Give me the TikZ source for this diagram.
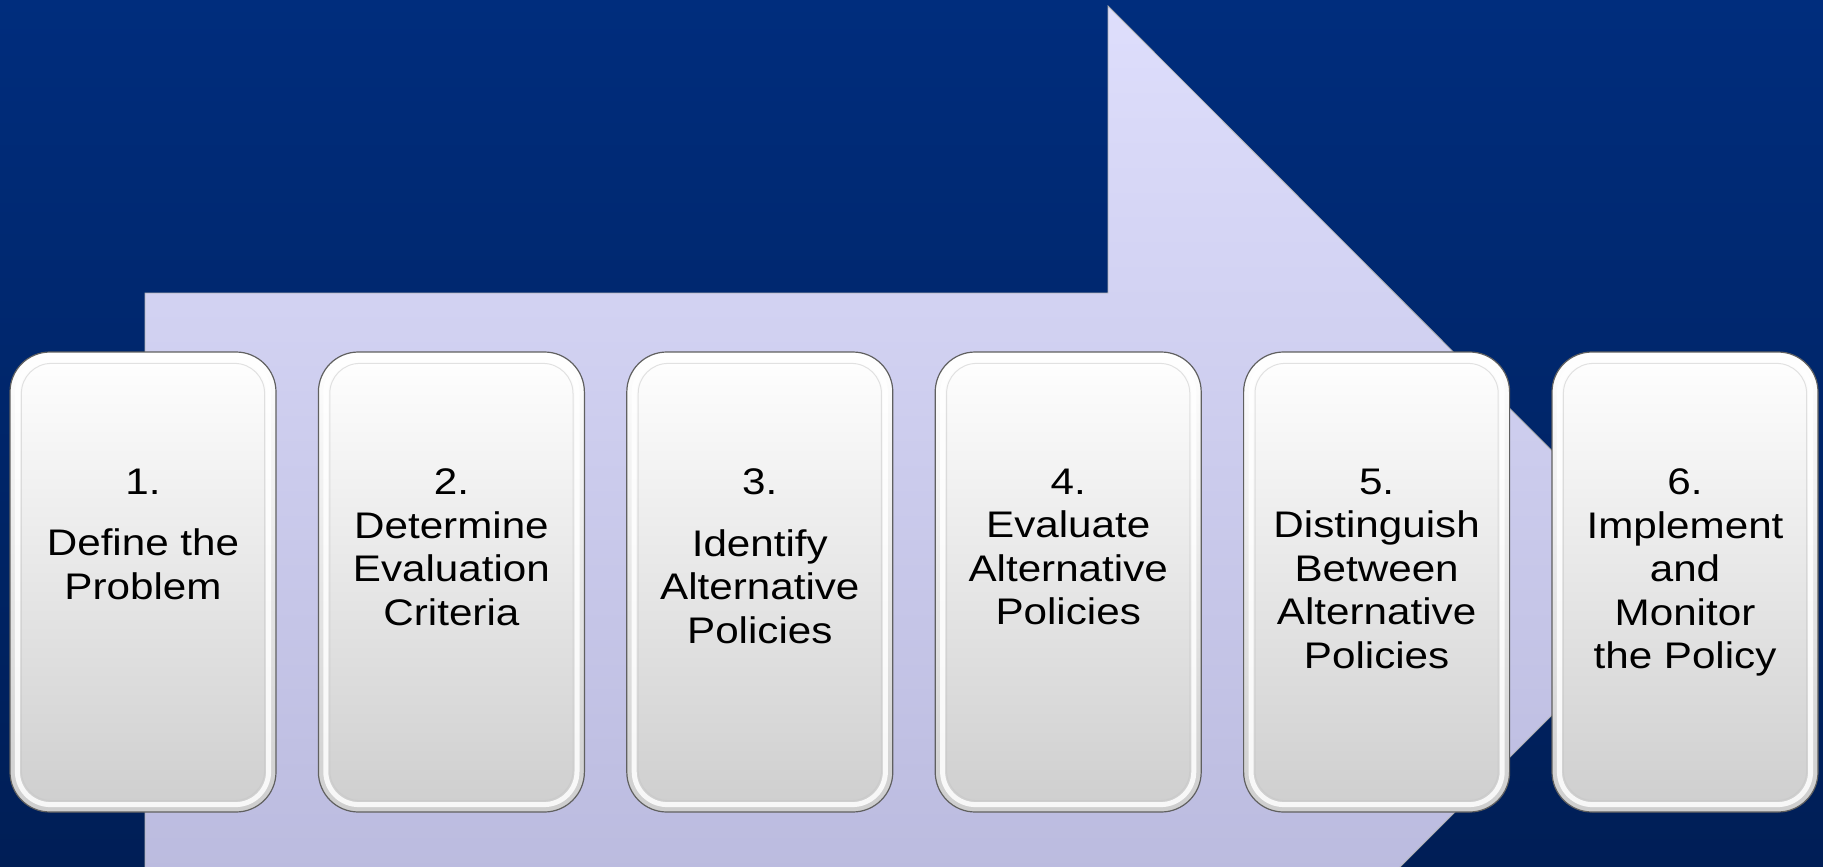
\documentclass[tikz,border=0pt]{standalone}
\usepackage{fontspec}
\setmainfont{Liberation Sans}
\definecolor{bgtop}{RGB}{0,45,125}
\definecolor{bgbot}{RGB}{0,30,86}
\definecolor{arrtop}{RGB}{222,222,252}
\definecolor{arrbot}{RGB}{186,186,222}
\definecolor{boxbot}{RGB}{206,206,206}
\definecolor{boxmid}{RGB}{238,238,238}
\tikzset{
  stepbox/.style={rounded corners=40pt, draw=gray!75!black, line width=1.2pt,
    top color=white, middle color=boxmid, bottom color=boxbot,
    minimum width=266pt, minimum height=460pt, inner sep=0pt},
  rimline/.style={rounded corners=33pt, draw=white, line width=5pt, opacity=0.85},
  rimshade/.style={rounded corners=30pt, draw=gray!45, line width=1pt, opacity=0.5},
  steptext/.style={anchor=north, align=center, inner sep=0pt, text=black, xscale=1.14,
    font=\fontsize{37}{43.5}\selectfont},
  bigarrow/.style={top color=arrtop, bottom color=arrbot, draw=gray!60, line width=0.8pt}
}
\begin{document}
\begin{tikzpicture}[x=1pt,y=-1pt]
\useasboundingbox (0,0) rectangle (1823,867);
\clip (0,0) rectangle (1823,867);
\shade[top color=bgtop, bottom color=bgbot] (0,0) rectangle (1823,867);
% big arrow
\coordinate (a1) at (145,293);
\coordinate (a2) at (1108,293);
\coordinate (a3) at (1108,6);
\coordinate (a4) at (1684,583);
\coordinate (a5) at (1367,900);
\coordinate (a6) at (145,900);
\path[bigarrow] (a1) -- (a2) -- (a3) -- (a4) -- (a5) -- (a6) -- cycle;
% boxes
\foreach \n/\cx in {1/143,2/451.4,3/759.8,4/1068.2,5/1376.6,6/1685}{
  \node[stepbox] (b\n) at (\cx,582) {};
  \draw[rimline] ([shift={(8pt,-8pt)}]b\n.north west) rectangle ([shift={(-8pt,8pt)}]b\n.south east);
  \draw[rimshade] ([shift={(12pt,-12pt)}]b\n.north west) rectangle ([shift={(-12pt,12pt)}]b\n.south east);
}
\node[steptext] (t1) at (143,468.5) {1.\\[18pt]Define the\\Problem};
\node[steptext] (t2) at (451.4,468.5) {2.\\Determine\\Evaluation\\Criteria};
\node[steptext] (t3) at (759.8,468.5) {3.\\[18pt]Identify\\Alternative\\Policies};
\node[steptext] (t4) at (1068.2,468.5) {4.\\Evaluate\\Alternative\\Policies};
\node[steptext] (t5) at (1376.6,468.5) {5.\\Distinguish\\Between\\Alternative\\Policies};
\node[steptext] (t6) at (1685,468.5) {6.\\Implement\\and\\Monitor\\the Policy};
\end{tikzpicture}
\end{document}
